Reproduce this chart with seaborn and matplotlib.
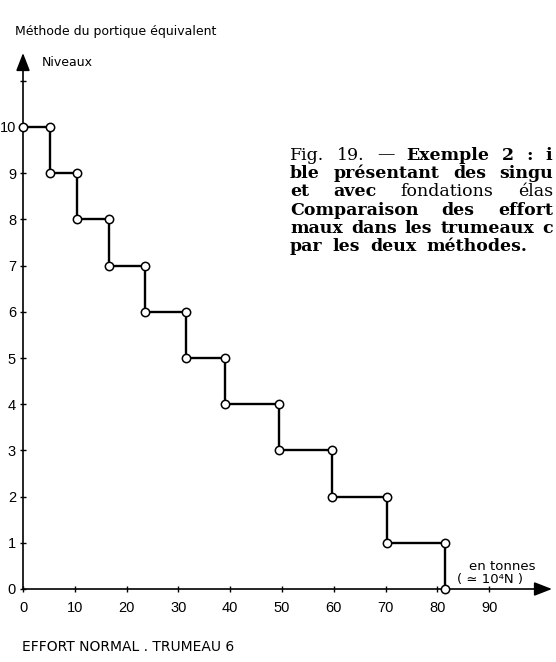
import matplotlib
matplotlib.use("Agg")
import matplotlib.pyplot as plt
import seaborn as sns
import pandas as pd

# ---- data ----
levels = [10, 9, 8, 7, 6, 5, 4, 3, 2, 1, 0]
# effort (tonnes) at which each level's plateau begins (level 10 starts at 0)
effort_bounds = [0, 5.2, 10.4, 16.6, 23.6, 31.5, 39.0, 49.4, 59.6, 70.2, 81.4]
x_ticks = [0, 10, 20, 30, 40, 50, 60, 70, 80, 90]
x_tick_labels = ["0", "10", "20", "30", "40", "50", "60", "70", "80", "90"]
y_ticks = [0, 1, 2, 3, 4, 5, 6, 7, 8, 9, 10, 11]
y_tick_labels = ["0", "1", "2", "3", "4", "5", "6", "7", "8", "9", "10", ""]

# build the stepped path (vertices = plotted circles)
px, py = [], []
for i, lv in enumerate(levels):
    px.append(effort_bounds[i]); py.append(lv)
    if i + 1 < len(effort_bounds):
        px.append(effort_bounds[i + 1]); py.append(lv)
df = pd.DataFrame({"effort": px, "niveau": py})

sns.set_theme(style="white")
plt.rcParams["font.family"] = ["DejaVu Sans"]
plt.rcParams["text.color"] = "black"
plt.rcParams["axes.labelcolor"] = "black"
plt.rcParams["xtick.color"] = "black"
plt.rcParams["ytick.color"] = "black"

W, H = 556, 662
fig = plt.figure(figsize=(W / 100, H / 100), dpi=100)
fig.patch.set_facecolor("white")

ax_left, ax_bottom_px, x_tip, y_tip = 23, 589, 552, 53
xs, ys = 5.18, 46.2
xmax = (x_tip - ax_left) / xs
ymax = (ax_bottom_px - y_tip) / ys
ax = fig.add_axes([ax_left / W, (H - ax_bottom_px) / H,
                   (x_tip - ax_left) / W, (ax_bottom_px - y_tip) / H])
ax.set_facecolor("none")
ax.set_xlim(0, xmax)
ax.set_ylim(0, ymax)
for s in ax.spines.values():
    s.set_visible(False)

# axes drawn as arrows
for tip in [(xmax, 0), (0, ymax)]:
    ax.annotate("", xy=tip, xytext=(0, 0), xycoords="data",
                arrowprops=dict(arrowstyle="-|>,head_length=0.9,head_width=0.35",
                                color="black", lw=1.2, shrinkA=0, shrinkB=0),
                annotation_clip=False)

ax.set_xticks(x_ticks)
ax.set_xticklabels(x_tick_labels, family=["Liberation Sans"])
ax.set_yticks(y_ticks)
ax.set_yticklabels(y_tick_labels, family=["Liberation Sans"])
ax.tick_params(axis="both", direction="inout", length=5, width=1.0,
               color="black", labelsize=10.5, labelcolor="black",
               bottom=True, left=True)
ax.tick_params(axis="x", pad=6)
ax.tick_params(axis="y", pad=2.5)

sns.lineplot(data=df, x="effort", y="niveau", sort=False, estimator=None,
             color="black", linewidth=1.7, ax=ax, legend=False)
sns.scatterplot(data=df, x="effort", y="niveau", marker="o", s=36,
                facecolor="white", edgecolor="black", linewidth=1.1,
                ax=ax, legend=False, zorder=5, clip_on=False)
ax.set_xlabel("")
ax.set_ylabel("")

# texts (figure pixel coords)
def ftext(x, y, s, **kw):
    return fig.text(x / W, 1 - y / H, s, **kw)

ftext(15, 32, "Méthode du portique équivalent", fontsize=9, va="center", ha="left")
ftext(42, 63, "Niveaux", fontsize=9, va="center", ha="left")
ftext(22, 647, "EFFORT NORMAL . TRUMEAU 6", fontsize=10, va="center", ha="left")
ftext(502, 566, "en tonnes", fontsize=9.5, va="center", ha="center")
ftext(490, 580, "( ≃ 10⁴N )", fontsize=9.5, va="center", ha="center")

# caption (serif), justified word by word
cap_lines = [
    [("Fig.", False), ("19.", False), ("—", False), ("Exemple", True),
     ("2", True), (":", True), ("i", True)],
    [("ble", True), ("présentant", True), ("des", True), ("singu", True)],
    [("et", True), ("avec", True), ("fondations", False), ("élas", False)],
    [("Comparaison", True), ("des", True), ("effort", True)],
    [("maux", True), ("dans", True), ("les", True), ("trumeaux", True), ("c", True)],
    [("par", True), ("les", True), ("deux", True), ("méthodes.", True)],
]
cap_right = [552, 553, 553, 553, 553, None]
cap_x0, cap_y0, cap_dy = 290, 155, 18.4
renderer = fig.canvas.get_renderer()
for li, words in enumerate(cap_lines):
    y = cap_y0 + li * cap_dy
    objs = [ftext(0, y, w, fontsize=12.5, family=["DejaVu Serif"],
                  fontweight="bold" if b else "normal", va="center", ha="left")
            for w, b in words]
    widths = [o.get_window_extent(renderer).width for o in objs]
    if cap_right[li] is None:
        gap = 10
    else:
        gap = (cap_right[li] - cap_x0 - sum(widths)) / (len(words) - 1)
    x = cap_x0
    for o, wd in zip(objs, widths):
        o.set_position((x / W, 1 - y / H))
        x += wd + gap

fig.savefig("out.png", dpi=100, facecolor="white")
